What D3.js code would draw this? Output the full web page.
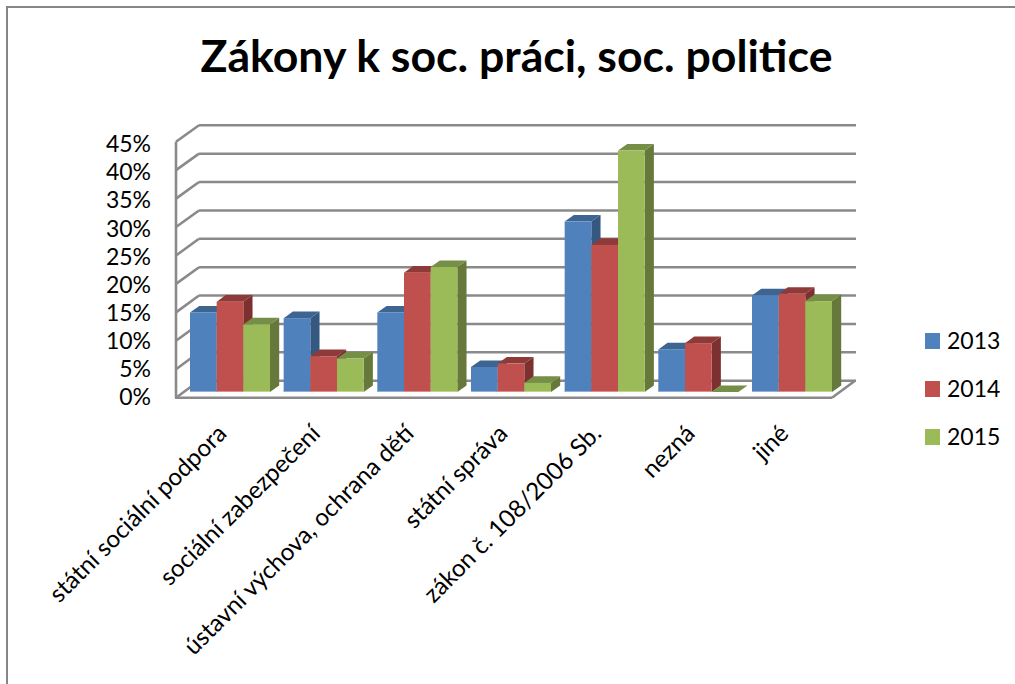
<!DOCTYPE html>
<html><head><meta charset="utf-8">
<script src="https://cdn.jsdelivr.net/npm/d3@7"></script>
<style>html,body{margin:0;padding:0;background:#fff}svg{display:block}text{font-family:Lato,"Open Sans",sans-serif;fill:#000}</style>
</head><body><svg id="c" width="1015" height="684"></svg>
<script>
const titleText = "Zákony k soc. práci, soc. politice";
const categories = ["státní sociální podpora","sociální zabezpečení","ústavní výchova, ochrana dětí","státní správa","zákon č. 108/2006 Sb.","nezná","jiné"];
const seriesNames = ["2013","2014","2015"];
const values2013 = [14,13,14,4.4,30,7.5,17];
const values2014 = [15.9,6.3,21,5,25.9,8.6,17.3];
const values2015 = [11.9,5.9,22,1.6,42.5,0,16];
const tickValues = [0,5,10,15,20,25,30,35,40,45];
const faces = {front:["#4F81BD","#C0504D","#9BBB59"],top:["#3E6491","#8E3A38","#768F46"],side:["#355880","#7C3130","#66783A"],edge:["#8FB0DA","#DC8F8C","#BDD68A"]};
const gridColor = "#8A8A8A";

const svg = d3.select("#c");
const dx = 23, dy = 17;           // wall depth
const bdx = 9.2, bdy = 6.6;       // bar depth
const yFront = d3.scaleLinear().domain([0,45]).range([397.7,141.7]);
const yBack = d3.scaleLinear().domain([0,45]).range([380.7,125.3]);
const yBar = d3.scaleLinear().domain([0,45]).range([392,136.4]);
const x0 = d3.scaleBand().domain(categories).range([190,832]).paddingInner(0.146).paddingOuter(0);
const x1 = d3.scaleBand().domain(seriesNames).range([0,x0.bandwidth()]);

// chart border
svg.append("path").attr("d","M7,684V7H1015").attr("fill","none").attr("stroke","#868686").attr("stroke-width",2);

// title
svg.append("text").attr("x",516.5).attr("y",72).attr("text-anchor","middle").attr("font-size",44.6).attr("font-weight",700).text(titleText);

// walls
const g = svg.append("g").attr("fill","none").attr("stroke",gridColor).attr("stroke-width",2.6);
g.selectAll("line.back").data(tickValues).join("line").attr("class","back")
  .attr("x1",176+dx).attr("x2",856).attr("y1",d=>yBack(d)).attr("y2",d=>yBack(d));
g.selectAll("line.diag").data(tickValues).join("line").attr("class","diag")
  .attr("x1",176).attr("x2",176+dx).attr("y1",d=>yFront(d)).attr("y2",d=>yBack(d));
g.append("line").attr("x1",176).attr("x2",176).attr("y1",yFront(45)).attr("y2",yFront(0));
g.append("line").attr("x1",175).attr("x2",832).attr("y1",yFront(0)).attr("y2",yFront(0));
g.append("line").attr("x1",832).attr("x2",855).attr("y1",yFront(0)).attr("y2",yBack(0));

// bars
const seriesValues = [values2013,values2014,values2015];
categories.forEach((c,i)=>{
  seriesNames.forEach((s,k)=>{
    const v = seriesValues[k][i];
    const x = x0(c)+x1(s), w = x1.bandwidth(), y = yBar(v), b = yBar(0);
    const bar = svg.append("g");
    bar.append("path").attr("fill",faces.side[k])
      .attr("d",`M${x+w},${y}L${x+w+bdx},${y-bdy}V${b-bdy}L${x+w},${b}Z`);
    bar.append("path").attr("fill",faces.top[k])
      .attr("d",`M${x},${y}L${x+bdx},${y-bdy}H${x+w+bdx}L${x+w},${y}Z`);
    bar.append("rect").attr("fill",faces.front[k]).attr("x",x).attr("y",y).attr("width",w).attr("height",b-y);
    if (v > 0) bar.append("rect").attr("fill",faces.edge[k]).attr("x",x).attr("y",b-1).attr("width",w).attr("height",1);
  });
});

// value axis labels
const yLab = d3.scaleLinear().domain([0,45]).range([397,144.5]);
const ax = svg.append("g").attr("transform","translate(151,0)")
  .call(d3.axisLeft(yLab).tickValues(tickValues).tickSize(0).tickPadding(0).tickFormat(d=>d+"%"));
ax.select(".domain").remove();
ax.selectAll("text").attr("font-size",23).style("font-family","Lato");

// category axis labels
const cx = svg.append("g").attr("transform","translate(-2,435)")
  .call(d3.axisBottom(x0).tickSize(0).tickPadding(0));
cx.select(".domain").remove();
cx.selectAll("text").attr("font-size",24.2).style("font-family","Lato")
  .attr("text-anchor","end").attr("dy",0).attr("y",0).attr("transform","rotate(-45)");

// legend
const ly = d3.scalePoint().domain(seriesNames).range([341,437]);
const leg = svg.append("g").selectAll("g").data(seriesNames).join("g").attr("transform",d=>`translate(925,${ly(d)})`);
leg.append("rect").attr("y",-8).attr("width",15).attr("height",16).attr("fill",(d,i)=>faces.front[i]);
leg.append("text").attr("x",22).attr("y",8).attr("font-size",23).text(d=>d);
</script></body></html>
